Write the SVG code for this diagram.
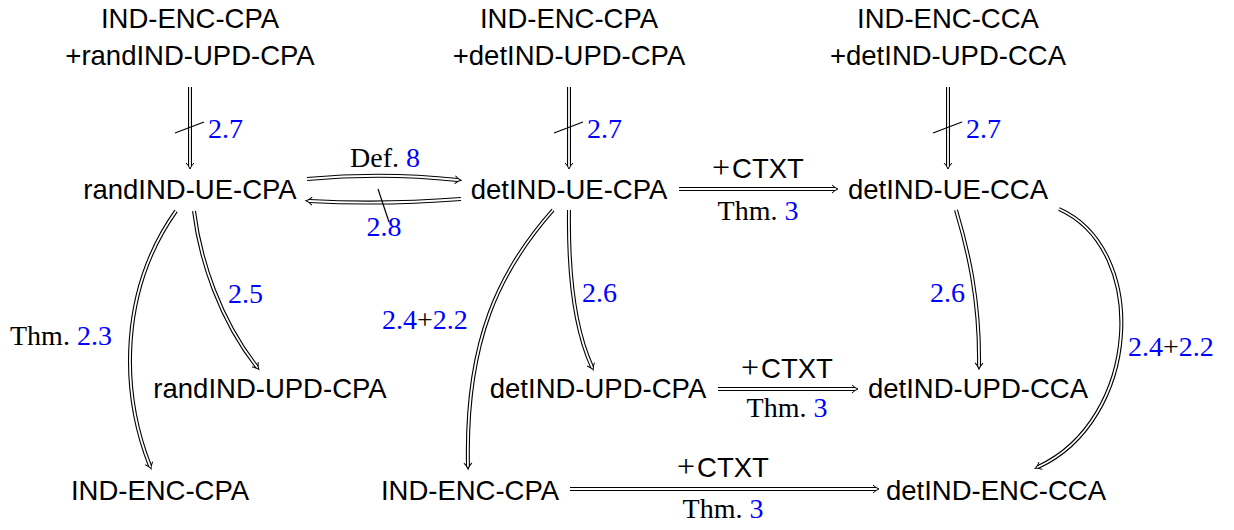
<svg xmlns="http://www.w3.org/2000/svg" width="1234" height="530" viewBox="0 0 1234 530">
<defs>
<marker id="ah" markerUnits="userSpaceOnUse" markerWidth="14" markerHeight="14" refX="0" refY="0" viewBox="-7 -7 14 14" orient="auto" overflow="visible">
<path d="M-3,-4 Q0,-1 3,0 Q0,1 -3,4" fill="none" stroke="#000" stroke-width="1"/>
</marker>
<style>
.n{font-family:"Liberation Sans","DejaVu Sans",sans-serif;font-size:27.5px;fill:#000;text-anchor:middle}
.c{font-family:"Liberation Sans","DejaVu Sans",sans-serif;font-size:27.5px;fill:#000}
.m{font-family:"Liberation Serif","DejaVu Serif",serif;font-size:28px;fill:#000}
.p{font-family:"Liberation Serif","DejaVu Serif",serif;font-size:32px;fill:#000}
.b{fill:#0000ff}
.o{fill:none;stroke:#000;stroke-width:4}
.i{fill:none;stroke:#fff;stroke-width:1.8;marker-end:url(#ah)}
.s{stroke:#000;stroke-width:1.2;fill:none}
</style>
</defs>
<g id="connectors">
<path class="o" d="M190,87 L190,166"/><path class="i" d="M190,87 L190,166"/>
<line class="s" x1="175" y1="133" x2="204" y2="122"/>
<path class="o" d="M569,87 L569,166"/><path class="i" d="M569,87 L569,166"/>
<line class="s" x1="554" y1="133" x2="583" y2="122"/>
<path class="o" d="M948,87 L948,166"/><path class="i" d="M948,87 L948,166"/>
<line class="s" x1="933" y1="133" x2="962" y2="122"/>
<path class="o" d="M307,179 Q383,172 458,180"/><path class="i" d="M307,179 Q383,172 458,180"/>
<path class="o" d="M461,199 Q383,205 309,201"/><path class="i" d="M461,199 Q383,205 309,201"/>
<line class="s" x1="378" y1="189" x2="389" y2="222"/>
<path class="o" d="M679,189 L835,189"/><path class="i" d="M679,189 L835,189"/>
<path class="o" d="M718,389 L855,389"/><path class="i" d="M718,389 L855,389"/>
<path class="o" d="M570,489 L876,489"/><path class="i" d="M570,489 L876,489"/>
<path class="o" d="M176,211 C120,290 120,390 150,466"/><path class="i" d="M176,211 C120,290 120,390 150,466"/>
<path class="o" d="M194,211 C200,260 220,320 257,367"/><path class="i" d="M194,211 C200,260 220,320 257,367"/>
<path class="o" d="M553,210 C500,270 465,340 468,466"/><path class="i" d="M553,210 C500,270 465,340 468,466"/>
<path class="o" d="M569,210 C568,280 575,330 592,367"/><path class="i" d="M569,210 C568,280 575,330 592,367"/>
<path class="o" d="M956,210 C968,250 980,300 979,366"/><path class="i" d="M956,210 C968,250 980,300 979,366"/>
<path class="o" d="M1059,209 C1150,250 1140,420 1038,467"/><path class="i" d="M1059,209 C1150,250 1140,420 1038,467"/>
</g>
<g id="edge-labels">
<text class="m b" x="208" y="138">2.7</text>
<text class="m b" x="587" y="138">2.7</text>
<text class="m b" x="966" y="138">2.7</text>
<text class="m" x="385" y="167" text-anchor="middle">Def. <tspan class="b">8</tspan></text>
<text class="m b" x="384" y="236" text-anchor="middle">2.8</text>
<text x="758" y="178" text-anchor="middle"><tspan class="p">+</tspan><tspan class="c" dx="2">CTXT</tspan></text>
<text class="m" x="758" y="220" text-anchor="middle">Thm. <tspan class="b">3</tspan></text>
<text x="787" y="378" text-anchor="middle"><tspan class="p">+</tspan><tspan class="c" dx="2">CTXT</tspan></text>
<text class="m" x="787" y="417" text-anchor="middle">Thm. <tspan class="b">3</tspan></text>
<text x="723" y="477" text-anchor="middle"><tspan class="p">+</tspan><tspan class="c" dx="2">CTXT</tspan></text>
<text class="m" x="723" y="518" text-anchor="middle">Thm. <tspan class="b">3</tspan></text>
<text class="m" x="10" y="345">Thm. <tspan class="b">2.3</tspan></text>
<text class="m b" x="228" y="303">2.5</text>
<text class="m" x="382" y="329"><tspan class="b">2.4</tspan>+<tspan class="b">2.2</tspan></text>
<text class="m b" x="582" y="302">2.6</text>
<text class="m b" x="930" y="302">2.6</text>
<text class="m" x="1128" y="356"><tspan class="b">2.4</tspan>+<tspan class="b">2.2</tspan></text>
</g>
<g id="n1"><text class="n" x="190" y="28">IND-ENC-CPA</text><text class="n" x="190" y="65">+randIND-UPD-CPA</text></g>
<g id="n2"><text class="n" x="569" y="28">IND-ENC-CPA</text><text class="n" x="569" y="65">+detIND-UPD-CPA</text></g>
<g id="n3"><text class="n" x="948" y="28">IND-ENC-CCA</text><text class="n" x="948" y="65">+detIND-UPD-CCA</text></g>
<g id="n4"><text class="n" x="190" y="199">randIND-UE-CPA</text></g>
<g id="n5"><text class="n" x="569" y="199">detIND-UE-CPA</text></g>
<g id="n6"><text class="n" x="948" y="199">detIND-UE-CCA</text></g>
<g id="n7"><text class="n" x="270" y="398">randIND-UPD-CPA</text></g>
<g id="n8"><text class="n" x="598" y="398">detIND-UPD-CPA</text></g>
<g id="n9"><text class="n" x="978" y="398">detIND-UPD-CCA</text></g>
<g id="n10"><text class="n" x="160" y="500">IND-ENC-CPA</text></g>
<g id="n11"><text class="n" x="470" y="500">IND-ENC-CPA</text></g>
<g id="n12"><text class="n" x="996" y="500">detIND-ENC-CCA</text></g>
</svg>
